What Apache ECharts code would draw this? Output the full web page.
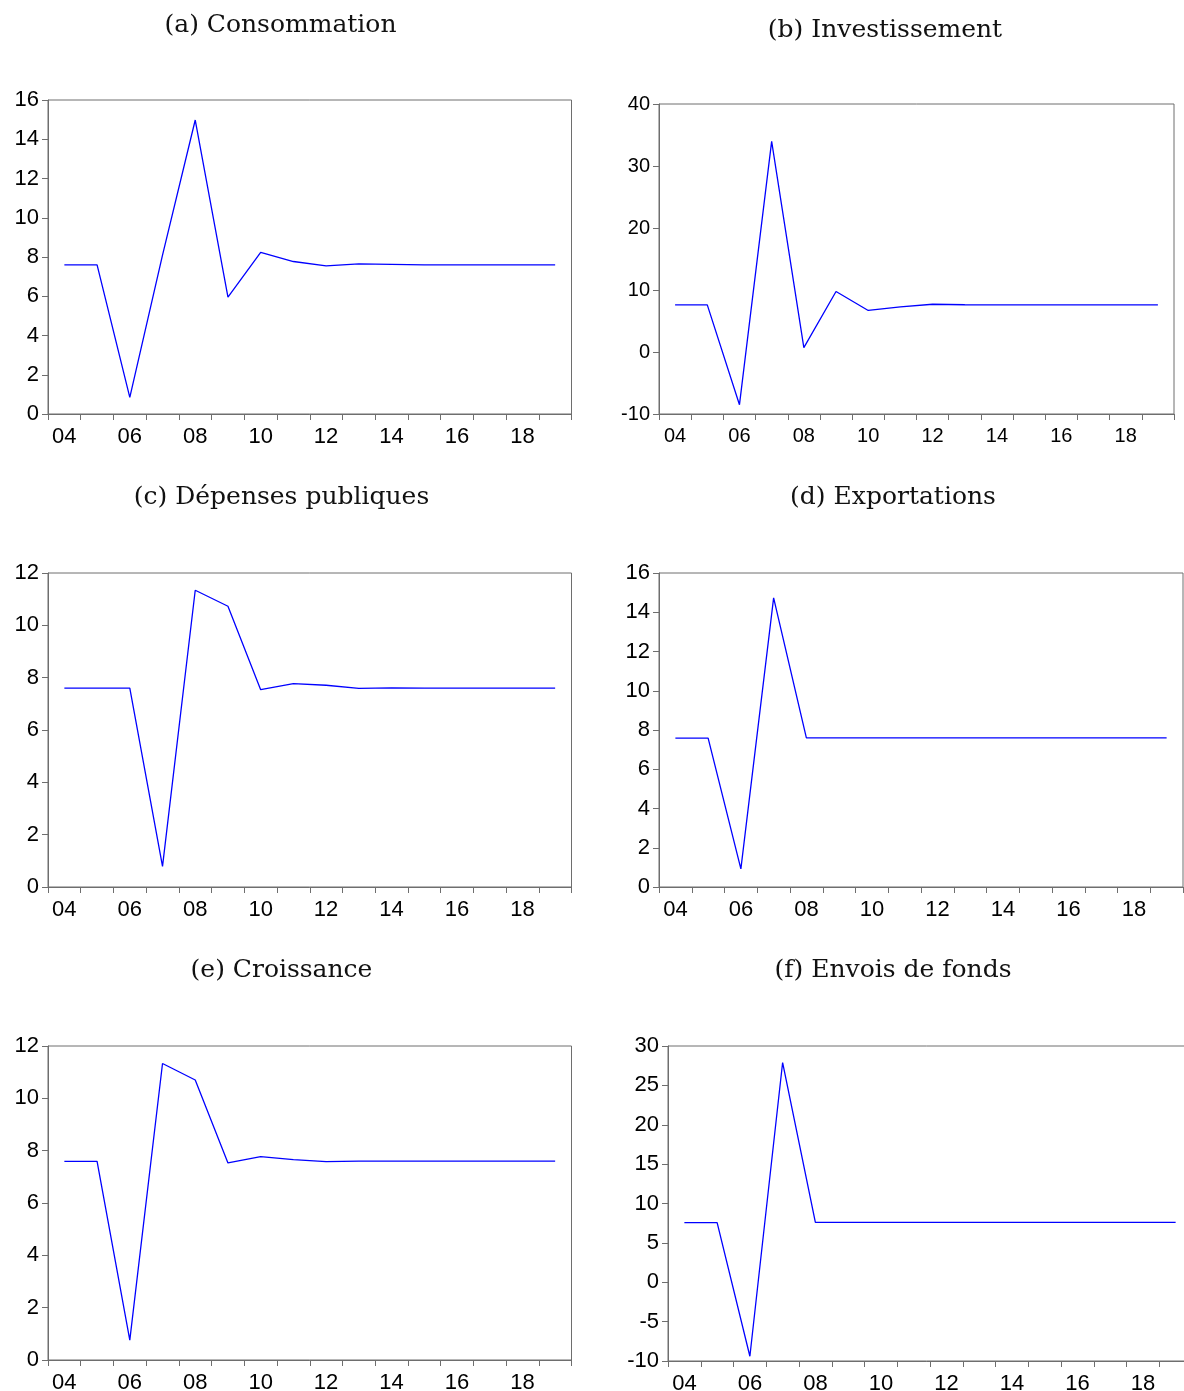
<!DOCTYPE html>
<html>
<head>
<meta charset="utf-8">
<script src="https://cdn.jsdelivr.net/npm/echarts@6/dist/echarts.min.js"></script>
<style>
  html, body { margin: 0; padding: 0; background: #ffffff; }
  #chart { width: 1184px; height: 1391px; }
</style>
</head>
<body>
<div id="chart"></div>
<script>
// Years 2004–2019, shown as two-digit labels
const years = ['04','05','06','07','08','09','10','11','12','13','14','15','16','17','18','19'];

// Simulated paths per variable
const consommation = [7.6, 7.6, 0.85, 8.1, 14.98, 5.96, 8.23, 7.77, 7.55, 7.65, 7.62, 7.6, 7.6, 7.6, 7.6, 7.6];
const investissement = [7.6, 7.6, -8.5, 33.97, 0.7, 9.75, 6.7, 7.28, 7.7, 7.62, 7.6, 7.6, 7.6, 7.6, 7.6, 7.6];
const depensesPubliques = [7.6, 7.6, 7.6, 0.79, 11.34, 10.73, 7.54, 7.77, 7.71, 7.59, 7.61, 7.6, 7.6, 7.6, 7.6, 7.6];
const exportations = [7.59, 7.59, 0.92, 14.73, 7.6, 7.6, 7.6, 7.6, 7.6, 7.6, 7.6, 7.6, 7.6, 7.6, 7.6, 7.6];
const croissance = [7.59, 7.59, 0.76, 11.33, 10.7, 7.53, 7.77, 7.66, 7.58, 7.6, 7.6, 7.6, 7.6, 7.6, 7.6, 7.6];
const envoisDeFonds = [7.58, 7.58, -9.4, 27.9, 7.6, 7.6, 7.6, 7.6, 7.6, 7.6, 7.6, 7.6, 7.6, 7.6, 7.6, 7.6];

// Panel titles
const titles = ['(a) Consommation', '(b) Investissement', '(c) Dépenses publiques',
                '(d) Exportations', '(e) Croissance', '(f) Envois de fonds'];

// y-axis ranges [min, max, step]
const yRanges = [[0, 16, 2], [-10, 40, 10], [0, 12, 2], [0, 16, 2], [0, 12, 2], [-10, 30, 5]];

const seriesData = [consommation, investissement, depensesPubliques, exportations, croissance, envoisDeFonds];

// Panel layout (the last panel runs past the right edge of the page)
const grids = [
  { left: 48,  top: 100,  width: 523.5, height: 314, font: 22 },
  { left: 659, top: 104,  width: 515,   height: 310, font: 20 },
  { left: 48,  top: 573,  width: 523.5, height: 314, font: 22 },
  { left: 659, top: 573,  width: 524,   height: 314, font: 22 },
  { left: 48,  top: 1046, width: 523.5, height: 314, font: 22 },
  { left: 668, top: 1046, width: 524,   height: 315, font: 22 }
];
const titlePos = [[280.5, 25], [885, 30], [281.5, 497], [893, 497], [281.5, 970], [893, 970]];

const axisGrey = '#6e6e6e';
const labelFont = 'Liberation Sans, Arial, sans-serif';

const option = {
  animation: false,
  backgroundColor: '#ffffff',
  grid: grids.map(g => ({
    left: g.left, top: g.top, width: g.width, height: g.height,
    outerBoundsMode: 'none', containLabel: false,
    show: true, borderColor: axisGrey, borderWidth: 1, backgroundColor: 'transparent'
  })),
  xAxis: grids.map((g, i) => ({
    type: 'category',
    gridIndex: i,
    data: years,
    boundaryGap: true,
    axisLine: { show: true, onZero: false, lineStyle: { color: axisGrey, width: 1 } },
    axisTick: { show: true, interval: 0, length: 6, lineStyle: { color: axisGrey } },
    axisLabel: { interval: 1, margin: 12, color: '#000', fontSize: g.font, fontFamily: labelFont },
    splitLine: { show: false }
  })),
  yAxis: grids.map((g, i) => ({
    type: 'value',
    gridIndex: i,
    min: yRanges[i][0], max: yRanges[i][1], interval: yRanges[i][2],
    axisLine: { show: true, onZero: false, lineStyle: { color: axisGrey, width: 1 } },
    axisTick: { show: true, length: 6, lineStyle: { color: axisGrey } },
    axisLabel: { margin: 9, color: '#000', fontSize: g.font, fontFamily: labelFont },
    splitLine: { show: false }
  })),
  series: seriesData.map((d, i) => ({
    type: 'line',
    xAxisIndex: i, yAxisIndex: i,
    data: d,
    symbol: 'none',
    lineStyle: { color: '#0000ff', width: 1.3 },
    itemStyle: { color: '#0000ff' }
  })),
  graphic: titles.map((t, i) => ({
    type: 'text',
    x: titlePos[i][0], y: titlePos[i][1],
    style: {
      text: t,
      font: '25px "DejaVu Serif", serif',
      fill: '#111',
      textAlign: 'center', textVerticalAlign: 'middle',
      align: 'center', verticalAlign: 'middle'
    }
  }))
};

const chart = echarts.init(document.getElementById('chart'), null, { renderer: 'canvas' });
chart.setOption(option);
</script>
</body>
</html>
